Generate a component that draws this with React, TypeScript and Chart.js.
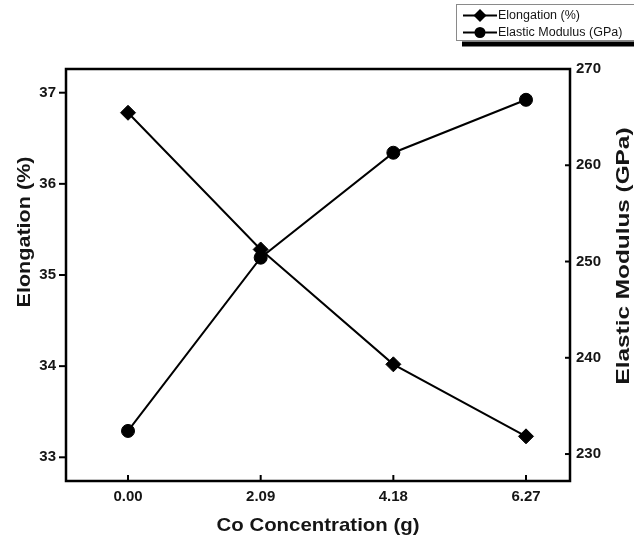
import React, { useEffect, useRef } from "react";
import { Chart, registerables } from "chart.js";

Chart.register(...registerables);

// Cobalt concentration (g) and the measured properties at each level
const concentration = [0.0, 2.09, 4.18, 6.27];
const elongation = [36.78, 35.28, 34.02, 33.23];
const elasticModulus = [232.4, 250.4, 261.3, 266.8];

// Axis tick values
const elongationTicks = [33, 34, 35, 36, 37];
const modulusTicks = [230, 240, 250, 260, 270];

// Texts
const seriesLabels = ["Elongation (%)", "Elastic Modulus (GPa)"];
const xTitle = "Co Concentration (g)";
const yLeftTitle = "Elongation (%)";
const yRightTitle = "Elastic Modulus (GPa)";

const INK = "#151515";
const FONT = "'Liberation Sans', Arial, Helvetica, sans-serif";

// Draws text centred on (x, y), rotated, and stretched along its run to a given length
function drawStretched(
  ctx: CanvasRenderingContext2D,
  text: string,
  x: number,
  y: number,
  angle: number,
  length: number,
  font: string
) {
  ctx.save();
  ctx.translate(x, y);
  ctx.rotate(angle);
  ctx.font = font;
  const w = ctx.measureText(text).width;
  ctx.scale(length / w, 1);
  ctx.textAlign = "center";
  ctx.textBaseline = "middle";
  ctx.fillStyle = INK;
  ctx.fillText(text, 0, 0);
  ctx.restore();
}

function line(ctx: CanvasRenderingContext2D, x1: number, y1: number, x2: number, y2: number) {
  ctx.beginPath();
  ctx.moveTo(x1, y1);
  ctx.lineTo(x2, y2);
  ctx.stroke();
}

// Legend marker: filled diamond or filled circle
function marker(ctx: CanvasRenderingContext2D, style: string, x: number, y: number, r: number) {
  ctx.beginPath();
  if (style === "circle") {
    ctx.arc(x, y, r, 0, Math.PI * 2);
  } else {
    ctx.moveTo(x, y - r);
    ctx.lineTo(x + r, y);
    ctx.lineTo(x, y + r);
    ctx.lineTo(x - r, y);
    ctx.closePath();
  }
  ctx.fill();
}

// Frame, tick marks, axis titles and the boxed legend
const decorations = {
  id: "decorations",
  afterDraw(chart: any) {
    const { ctx, chartArea: a, scales } = chart;
    ctx.save();

    // plot frame
    ctx.strokeStyle = "#000";
    ctx.lineWidth = 2.5;
    ctx.strokeRect(a.left, a.top, a.right - a.left, a.bottom - a.top);

    // tick marks
    ctx.lineWidth = 2;
    for (const v of concentration) {
      const px = scales.x.getPixelForValue(v);
      line(ctx, px, a.bottom, px, a.bottom - 6);
    }
    for (const v of elongationTicks) {
      const py = scales.y.getPixelForValue(v);
      line(ctx, a.left - 7, py, a.left, py);
    }
    for (const v of modulusTicks) {
      const py = scales.y1.getPixelForValue(v);
      line(ctx, a.right - 5, py, a.right, py);
    }

    // axis titles
    const titleFont = `bold 19px ${FONT}`;
    drawStretched(ctx, xTitle, (a.left + a.right) / 2, 526, 0, 203, titleFont);
    drawStretched(ctx, yLeftTitle, 25, 232, -Math.PI / 2, 151, titleFont);
    drawStretched(ctx, yRightTitle, 624, 256, -Math.PI / 2, 257, titleFont);

    // legend box with drop shadow
    const lx = 456;
    const ly = 4;
    const lw = 200;
    const lh = 36;
    ctx.fillStyle = "#000";
    ctx.fillRect(lx + 6, ly + lh + 1.5, lw, 5);
    ctx.fillStyle = "#fff";
    ctx.fillRect(lx, ly, lw, lh);
    ctx.strokeStyle = "#8a8a8a";
    ctx.lineWidth = 1;
    ctx.strokeRect(lx + 0.5, ly + 0.5, lw, lh);

    const rows = [
      { text: seriesLabels[0], style: "diamond", r: 6.5, y: 15.5 },
      { text: seriesLabels[1], style: "circle", r: 5.5, y: 32.5 },
    ];
    ctx.font = `12.5px ${FONT}`;
    ctx.textAlign = "left";
    ctx.textBaseline = "middle";
    for (const row of rows) {
      ctx.strokeStyle = "#000";
      ctx.lineWidth = 2;
      line(ctx, 463, row.y, 497, row.y);
      ctx.fillStyle = "#000";
      marker(ctx, row.style, 480, row.y, row.r);
      ctx.fillStyle = INK;
      ctx.fillText(row.text, 498, row.y + 0.5);
    }

    ctx.restore();
  },
};

const tickFont = { family: FONT, size: 15, weight: "bold" as const };

export default function App() {
  const canvasRef = useRef<HTMLCanvasElement | null>(null);

  useEffect(() => {
    const canvas = canvasRef.current;
    if (!canvas) return;

    const chart = new Chart(canvas, {
      type: "line",
      data: {
        datasets: [
          {
            label: seriesLabels[0],
            data: concentration.map((x, i) => ({ x, y: elongation[i] })),
            yAxisID: "y",
            borderColor: "#000",
            backgroundColor: "#000",
            borderWidth: 2,
            pointStyle: "rectRot",
            pointRadius: 7.5,
            pointBorderWidth: 1,
            pointBackgroundColor: "#000",
            pointBorderColor: "#000",
            tension: 0,
          },
          {
            label: seriesLabels[1],
            data: concentration.map((x, i) => ({ x, y: elasticModulus[i] })),
            yAxisID: "y1",
            borderColor: "#000",
            backgroundColor: "#000",
            borderWidth: 2,
            pointStyle: "circle",
            pointRadius: 6.5,
            pointBorderWidth: 1,
            pointBackgroundColor: "#000",
            pointBorderColor: "#000",
            tension: 0,
          },
        ],
      },
      options: {
        responsive: false,
        animation: false,
        devicePixelRatio: 1,
        layout: { padding: { top: 69, left: 0, right: 0, bottom: 0 } },
        plugins: {
          legend: { display: false },
          title: { display: false },
          tooltip: { enabled: false },
        },
        scales: {
          x: {
            type: "linear",
            position: "bottom",
            min: -0.977,
            max: 6.963,
            grid: { display: false, drawTicks: false },
            border: { display: false },
            ticks: {
              color: INK,
              font: tickFont,
              padding: 7,
              callback: (v: any) => Number(v).toFixed(2),
            },
            afterBuildTicks: (s: any) => {
              s.ticks = concentration.map((value) => ({ value }));
            },
            afterFit: (s: any) => {
              s.height = 59;
            },
          },
          y: {
            type: "linear",
            position: "left",
            min: 32.74,
            max: 37.26,
            grid: { display: false, drawTicks: false },
            border: { display: false },
            ticks: { color: INK, font: tickFont, padding: 10 },
            afterBuildTicks: (s: any) => {
              s.ticks = elongationTicks.map((value) => ({ value }));
            },
            afterFit: (s: any) => {
              s.width = 66;
            },
          },
          y1: {
            type: "linear",
            position: "right",
            min: 227.2,
            max: 270,
            grid: { display: false, drawTicks: false },
            border: { display: false },
            ticks: { color: INK, font: tickFont, padding: 6 },
            afterBuildTicks: (s: any) => {
              s.ticks = modulusTicks.map((value) => ({ value }));
            },
            afterFit: (s: any) => {
              s.width = 64;
            },
          },
        },
      },
      plugins: [decorations],
    });

    return () => chart.destroy();
  }, []);

  return (
    <div style={{ position: "fixed", left: 0, top: 0, width: 634, height: 540, background: "#fff" }}>
      <canvas ref={canvasRef} width={634} height={540} />
    </div>
  );
}
